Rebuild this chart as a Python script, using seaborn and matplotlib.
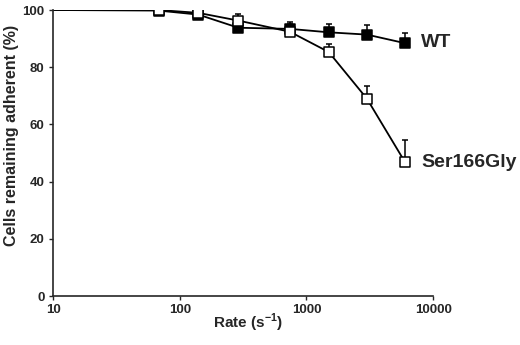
import numpy as np
import pandas as pd
import seaborn as sns
import matplotlib.pyplot as plt

# shear rate (s-1) and % cells remaining adherent
rate = [68, 140, 290, 740, 1500, 3000, 6000]
wt = [99.8, 98.4, 93.8, 93.4, 92.2, 91.4, 88.4]
wt_err = [0, 0, 0, 2.5, 2.8, 3.4, 3.5]
ser = [100.0, 99.0, 96.3, 92.4, 85.3, 69.0, 46.8]
ser_err = [0, 0, 2.2, 2.6, 2.7, 4.5, 7.8]

df = pd.DataFrame({
    "rate": rate * 2,
    "value": wt + ser,
    "err": wt_err + ser_err,
    "line": ["WT"] * len(rate) + ["Ser166Gly"] * len(rate),
})

sns.set_style("ticks")
plt.rcParams["font.family"] = ["Liberation Sans", "DejaVu Sans"]
plt.rcParams["font.weight"] = "bold"
plt.rcParams["mathtext.fontset"] = "custom"
plt.rcParams["mathtext.bf"] = "Liberation Sans:bold"
plt.rcParams["mathtext.rm"] = "Liberation Sans:bold"

fig = plt.figure(figsize=(5.2, 3.45), dpi=100)
ax = fig.add_axes([0.102, 0.142, 0.731, 0.829])

styles = {"WT": "black", "Ser166Gly": "white"}
for name, face in styles.items():
    d = df[df["line"] == name]
    # line starts at the left edge of the plot at 100 %
    start = pd.DataFrame({"rate": [10], "value": [100.0]})
    sns.lineplot(data=pd.concat([start, d[["rate", "value"]]]), x="rate", y="value",
                 color="black", lw=1.3, ax=ax, estimator=None, sort=False)
    ax.errorbar(d["rate"], d["value"], yerr=[np.zeros(len(d)), d["err"]],
                fmt="none", ecolor="black", elinewidth=1.1, capsize=2.5, capthick=1.1, zorder=3)
    sns.scatterplot(data=d, x="rate", y="value", marker="s", s=55, color=face,
                    edgecolor="black", linewidth=1.1, ax=ax, zorder=4)

ax.set_xscale("log")
ax.set_xlim(10, 10000)
ax.set_ylim(0, 100)
ax.set_xticks([10, 100, 1000, 10000])
ax.set_xticklabels(["10", "100", "1000", "10000"])
ax.xaxis.set_minor_locator(plt.NullLocator())
ax.set_yticks([0, 20, 40, 60, 80, 100])
ax.tick_params(axis="both", labelsize=9.5, length=3, width=1, direction="out", pad=3)
for lab in ax.get_xticklabels() + ax.get_yticklabels():
    lab.set_fontweight("bold")
for s in ["left", "bottom"]:
    ax.spines[s].set_linewidth(1.2)
sns.despine(ax=ax)

ax.set_xlabel("Rate (s$^{-1}$)", fontsize=11, fontweight="bold")
ax.set_ylabel("Cells remaining adherent (%)", fontsize=11.5, fontweight="bold")
ax.xaxis.set_label_coords(0.513, -0.094)
ax.xaxis.label.set_va("center")
ax.yaxis.set_label_coords(-0.11, 0.56)
ax.yaxis.label.set_va("center")

ax.text(0.968, 0.888, "WT", transform=ax.transAxes, fontsize=14, fontweight="bold",
        va="center", ha="left", clip_on=False)
ax.text(0.968, 0.468, "Ser166Gly", transform=ax.transAxes, fontsize=14, fontweight="bold",
        va="center", ha="left", clip_on=False)

fig.savefig("out.png", dpi=100)
